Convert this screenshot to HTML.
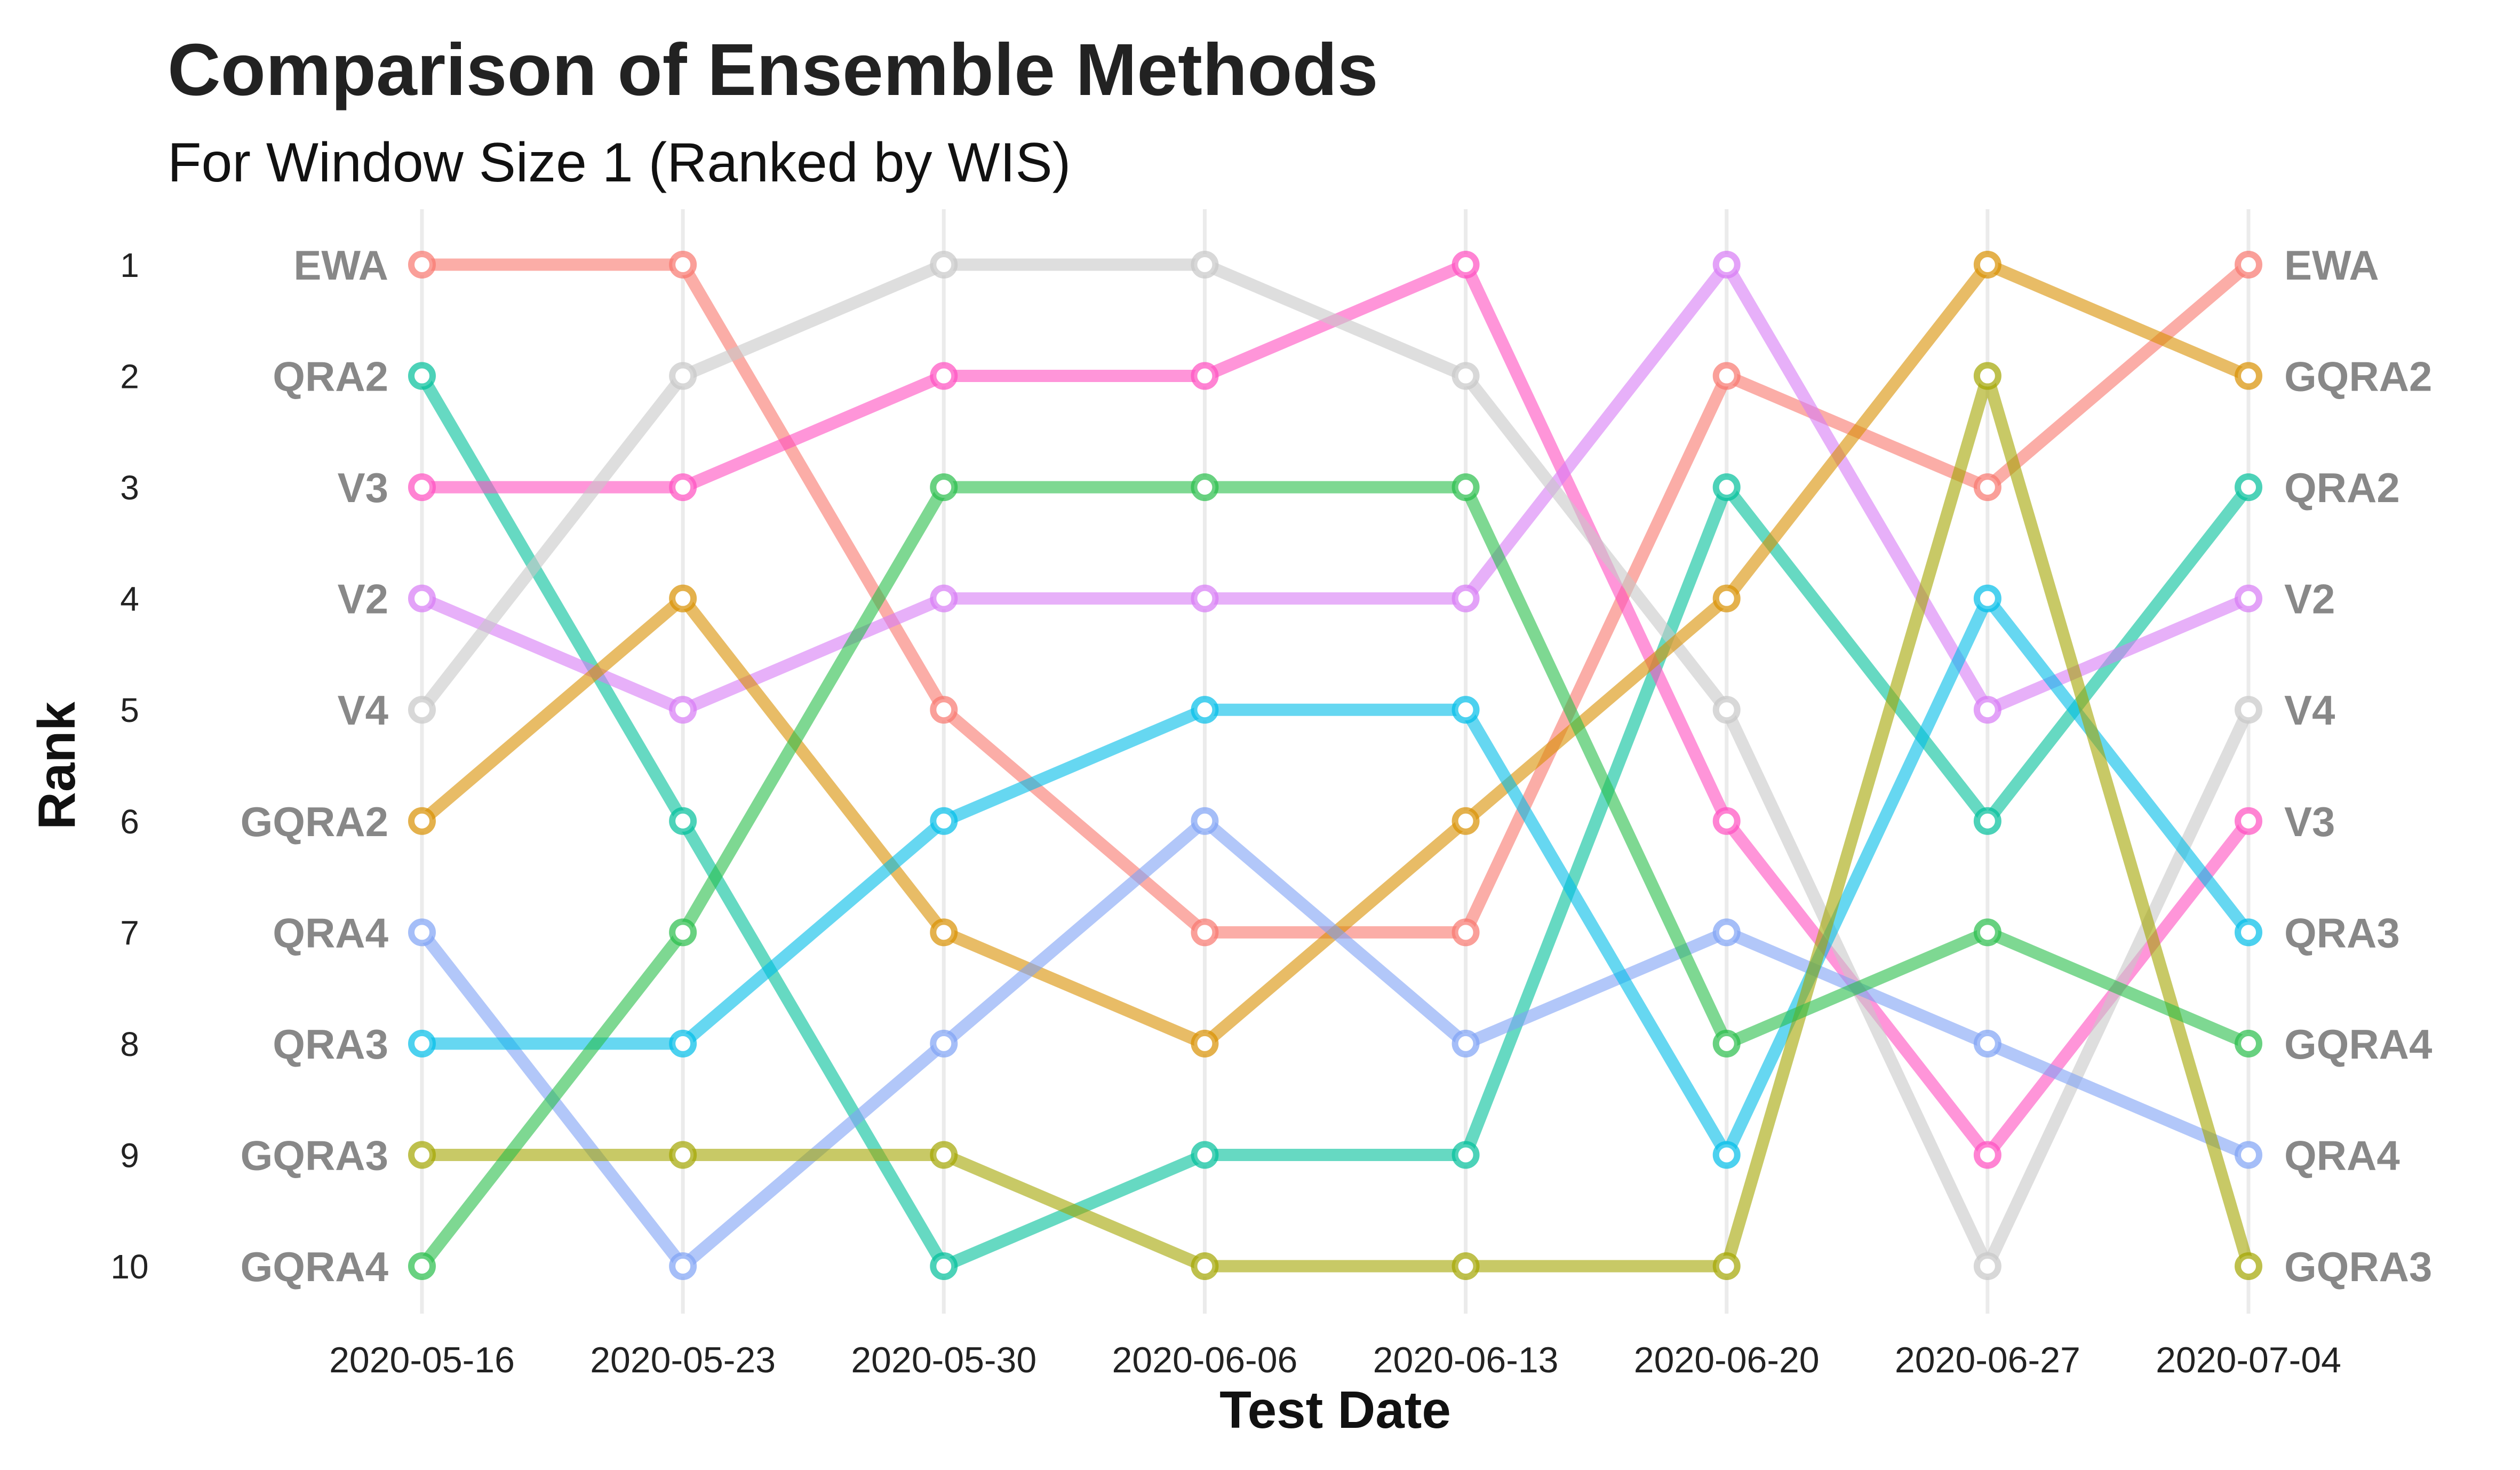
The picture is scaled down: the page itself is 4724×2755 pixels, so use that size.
<!DOCTYPE html>
<html><head><meta charset="utf-8"><style>
html,body{margin:0;padding:0;background:#fff;}
svg{display:block;font-family:"Liberation Sans",sans-serif;}
</style></head><body>
<svg id="chart" width="4724" height="2755" viewBox="0 0 4724 2755" xmlns="http://www.w3.org/2000/svg">
<rect width="4724" height="2755" fill="#fff"/>
<text x="314" y="178" font-size="138" font-weight="bold" fill="#222">Comparison of Ensemble Methods</text>
<text x="314" y="340" font-size="104" fill="#111">For Window Size 1 (Ranked by WIS)</text>
<text x="2503" y="2676" font-size="98" font-weight="bold" text-anchor="middle" fill="#111">Test Date</text>
<text transform="translate(140,1435) rotate(-90)" font-size="98" font-weight="bold" text-anchor="middle" fill="#111">Rank</text>
<g id="grid"></g><g id="ticks"></g><g id="lines"></g><g id="points"></g><g id="labels"></g>
</svg>
<script>
const dates = ["2020-05-16","2020-05-23","2020-05-30","2020-06-06","2020-06-13","2020-06-20","2020-06-27","2020-07-04"];
const seriesNames = ["EWA","QRA2","V3","V2","V4","GQRA2","QRA4","QRA3","GQRA3","GQRA4"];
const rankEWA   = [1,1,5,7,7,2,3,1];
const rankQRA2  = [2,6,10,9,9,3,6,3];
const rankV3    = [3,3,2,2,1,6,9,6];
const rankV2    = [4,5,4,4,4,1,5,4];
const rankV4    = [5,2,1,1,2,5,10,5];
const rankGQRA2 = [6,4,7,8,6,4,1,2];
const rankQRA4  = [7,10,8,6,8,7,8,9];
const rankQRA3  = [8,8,6,5,5,9,4,7];
const rankGQRA3 = [9,9,9,10,10,10,2,10];
const rankGQRA4 = [10,7,3,3,3,8,7,8];
const rankTicks = [1,2,3,4,5,6,7,8,9,10];
const ranks = [rankEWA,rankQRA2,rankV3,rankV2,rankV4,rankGQRA2,rankQRA4,rankQRA3,rankGQRA3,rankGQRA4];
const colors = ["#F8766D","#00BF9A","#FF4FC0","#D77BF5","#C8C8C8","#D89000","#7FA2F5","#00BDE8","#A3A500","#28BE4A"];

const NS="http://www.w3.org/2000/svg";
const X0=791, X1=4215, Y1=496, Y10=2373;
const xS = i => X0 + (X1-X0)*i/(dates.length-1);
const yS = r => Y1 + (Y10-Y1)*(r-1)/9;
function mk(tag, attrs, parent){const e=document.createElementNS(NS,tag);for(const k in attrs)e.setAttribute(k,attrs[k]);document.getElementById(parent).appendChild(e);return e;}

dates.forEach((d,i)=>{
  const g=mk("line",{x1:xS(i),x2:xS(i),y1:392,y2:2462,stroke:"#ebebeb","stroke-width":7},"grid");
  
  
  const t=mk("text",{x:xS(i),y:2572,"font-size":68,"text-anchor":"middle",fill:"#222"},"ticks");
  t.textContent=d;
  
  
});
rankTicks.forEach(r=>{
  const t=mk("text",{x:243,y:yS(r)+23,"font-size":64,"text-anchor":"middle",fill:"#222"},"ticks");
  t.textContent=r;
  
  
});
ranks.forEach((rs,s)=>{
  const pts=rs.map((r,i)=>xS(i)+","+yS(r)).join(" ");
  const pl=mk("polyline",{points:pts,fill:"none",stroke:colors[s],"stroke-width":23,"stroke-opacity":0.6,"stroke-linejoin":"round"},"lines");
  
  
  rs.forEach((r,i)=>{
    const c=mk("circle",{cx:xS(i),cy:yS(r),r:20,fill:"#fff",stroke:colors[s],"stroke-width":12,"stroke-opacity":0.7},"points");
    
    
  });
  const l=mk("text",{x:728,y:yS(rs[0])+28,"font-size":78,"font-weight":"bold","text-anchor":"end",fill:"#888"},"labels");
  l.textContent=seriesNames[s];
  
  
  const rl=mk("text",{x:4282,y:yS(rs[rs.length-1])+28,"font-size":78,"font-weight":"bold",fill:"#888"},"labels");
  rl.textContent=seriesNames[s];
  
  
});
</script>
</body></html>
